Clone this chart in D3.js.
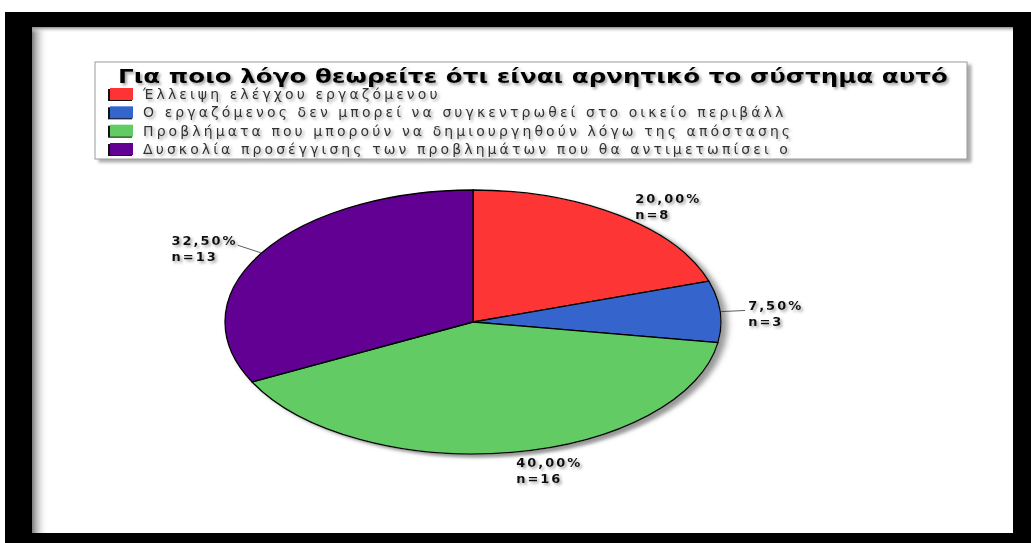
<!DOCTYPE html>
<html>
<head>
<meta charset="utf-8">
<script src="https://cdn.jsdelivr.net/npm/d3@7"></script>
<style>
  html, body { margin: 0; padding: 0; background: #ffffff; }
  svg { display: block; }
</style>
</head>
<body>
<svg id="chart" width="1031" height="543"></svg>
<script>
// Survey answers: why the system is considered negative
const title = "Για ποιο λόγο θεωρείτε ότι είναι αρνητικό το σύστημα αυτό";
const categories = [
  "Έλλειψη ελέγχου εργαζόμενου",
  "Ο εργαζόμενος δεν μπορεί να συγκεντρωθεί στο οικείο περιβάλλ",
  "Προβλήματα που μπορούν να δημιουργηθούν λόγω της απόστασης",
  "Δυσκολία προσέγγισης των προβλημάτων που θα αντιμετωπίσει ο"
];
const counts = [8, 3, 16, 13];
const colors = ["#fe3434", "#3465cc", "#63cb63", "#630094"];

const W = 1031, H = 543;
const svg = d3.select("#chart");
const defs = svg.append("defs");

// soft grey drop shadow used by the pie, the texts and the legend box
function shadowFilter(id, dx, dy, blur, opacity) {
  const f = defs.append("filter").attr("id", id)
    .attr("x", "-20%").attr("y", "-20%").attr("width", "140%").attr("height", "140%");
  f.append("feGaussianBlur").attr("in", "SourceAlpha").attr("stdDeviation", blur).attr("result", "b");
  f.append("feOffset").attr("in", "b").attr("dx", dx).attr("dy", dy).attr("result", "o");
  f.append("feFlood").attr("flood-color", "#777").attr("flood-opacity", opacity).attr("result", "c");
  f.append("feComposite").attr("in", "c").attr("in2", "o").attr("operator", "in").attr("result", "s");
  const m = f.append("feMerge");
  m.append("feMergeNode").attr("in", "s");
  m.append("feMergeNode").attr("in", "SourceGraphic");
}
shadowFilter("pieShadow", 6, 5, 3, 0.75);
shadowFilter("textShadow", 2, 2, 1.6, 0.7);
shadowFilter("boxShadow", 4, 3, 1.5, 0.6);

// frame: black border with a grey inner bevel
svg.append("rect").attr("x", 5).attr("y", 12).attr("width", W - 5).attr("height", H - 12).attr("fill", "#000");
svg.append("rect").attr("x", 32).attr("y", 27).attr("width", 1013 - 32).attr("height", 533 - 27).attr("fill", "#fff");
const gl = defs.append("linearGradient").attr("id", "bevelL").attr("x1", 0).attr("x2", 1).attr("y1", 0).attr("y2", 0);
gl.append("stop").attr("offset", 0).attr("stop-color", "#7a7a7a");
gl.append("stop").attr("offset", 1).attr("stop-color", "#fff").attr("stop-opacity", 0);
const gt = defs.append("linearGradient").attr("id", "bevelT").attr("x1", 0).attr("x2", 0).attr("y1", 0).attr("y2", 1);
gt.append("stop").attr("offset", 0).attr("stop-color", "#8a8a8a");
gt.append("stop").attr("offset", 1).attr("stop-color", "#fff").attr("stop-opacity", 0);
svg.append("rect").attr("x", 32).attr("y", 27).attr("width", 16).attr("height", 533 - 27).attr("fill", "url(#bevelL)");
svg.append("rect").attr("x", 32).attr("y", 27).attr("width", 1013 - 32).attr("height", 6).attr("fill", "url(#bevelT)");

// legend box
const lg = { x: 95, y: 62, w: 872, h: 97 };
svg.append("rect").attr("x", lg.x).attr("y", lg.y).attr("width", lg.w).attr("height", lg.h)
  .attr("fill", "#fff").attr("stroke", "#9a9a9a").attr("stroke-width", 1)
  .attr("filter", "url(#boxShadow)");

svg.append("text")
  .attr("x", 118).attr("y", 83)
  .attr("font-family", "DejaVu Sans, sans-serif").attr("font-weight", "bold").attr("font-size", 19)
  .attr("textLength", 830).attr("lengthAdjust", "spacingAndGlyphs")
  .attr("fill", "#000").attr("filter", "url(#textShadow)")
  .text(title);

const rowY = d3.scalePoint().domain(d3.range(categories.length)).range([88, 143]);
const rows = svg.append("g").selectAll("g").data(categories).join("g")
  .attr("transform", (d, i) => `translate(0,${rowY(i)})`);
rows.append("rect").attr("x", 108).attr("y", 1).attr("width", 24).attr("height", 12).attr("fill", "#111");
rows.append("rect").attr("x", 110).attr("y", 0).attr("width", 23).attr("height", 12).attr("fill", (d, i) => colors[i]);
rows.append("text")
  .attr("x", 143).attr("y", 11)
  .attr("font-family", "DejaVu Sans, sans-serif").attr("font-size", 14)
  .attr("letter-spacing", 3.1)
  .attr("fill", "#333").attr("filter", "url(#textShadow)")
  .text(d => d);

// pie, drawn as a circle and squashed vertically into an ellipse
const cx = 473, cy = 322, rx = 248, ry = 132;
const total = d3.sum(counts);
const pie = d3.pie().sort(null).value(d => d)(counts);
const arc = d3.arc().innerRadius(0).outerRadius(rx);

const pg = svg.append("g").attr("filter", "url(#pieShadow)")
  .attr("transform", `translate(${cx},${cy}) scale(1,${ry / rx})`);
pg.selectAll("path").data(pie).join("path")
  .attr("d", arc)
  .attr("fill", (d, i) => colors[i])
  .attr("stroke", "#000").attr("stroke-width", 1.3)
  .attr("vector-effect", "non-scaling-stroke");

// value labels: two left-aligned lines, placed just outside the rim
const fmt = v => (v * 100).toFixed(2).replace(".", ",") + "%";
const labels = svg.append("g");
pie.forEach((d, i) => {
  const a = (d.startAngle + d.endAngle) / 2;
  const sx = Math.sin(a), sy = -Math.cos(a);
  const edge = [cx + sx * rx, cy + sy * ry];
  const out = [cx + sx * (rx + 28), cy + sy * (ry + 15)];
  const right = sx >= 0;
  if (Math.abs(sx) > 0.8) {
    labels.append("line")
      .attr("x1", edge[0]).attr("y1", edge[1]).attr("x2", right ? out[0] - 3 : out[0]).attr("y2", out[1])
      .attr("stroke", "#333").attr("stroke-width", 0.8);
  }
  const t = labels.append("text")
    .attr("font-family", "DejaVu Sans, sans-serif").attr("font-weight", "bold").attr("font-size", 13)
    .attr("fill", "#111").attr("filter", "url(#textShadow)");
  const lines = [fmt(d.value / total), "n=" + d.value];
  const spans = lines.map((s, k) =>
    t.append("tspan").attr("x", out[0]).attr("y", out[1] + k * 16)
      .attr("letter-spacing", 2).text(s));
  if (!right) {
    const w = spans[0].node().getComputedTextLength();
    spans.forEach(sp => sp.attr("x", out[0] - w));
  }
});
</script>
</body>
</html>
